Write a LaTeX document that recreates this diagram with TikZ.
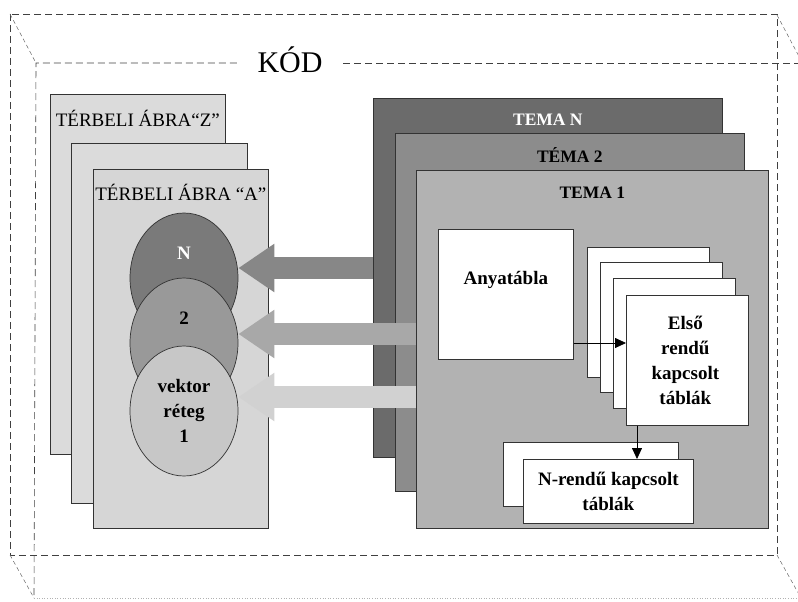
\documentclass[tikz,border=0pt]{standalone}
\usepackage{fontspec}
\setmainfont{Liberation Serif}
\usetikzlibrary{arrows.meta,positioning,shapes.geometric}
\tikzset{
  codeline/.style={draw=black!75, line width=0.6pt, dash pattern=on 7pt off 4pt},
  codeslant/.style={draw=black!60, line width=0.5pt, dash pattern=on 4pt off 3pt},
  codefaint/.style={draw=black!30, line width=0.6pt, dotted},
  sheet/.style={draw=black!80, line width=0.7pt, anchor=north west, inner sep=0pt},
  layer/.style={ellipse, draw=black!80, line width=0.7pt, minimum width=108pt,
    minimum height=130pt, inner sep=0pt},
  bigarrow/.style={line width=22pt, -{Triangle[length=36pt,width=46pt]}},
  linkarrow/.style={draw=black, line width=0.8pt, -{Triangle[length=11pt,width=10pt]}},
  boldlbl/.style={font=\fontsize{19}{25}\selectfont\bfseries, align=center, inner sep=0pt},
  headlbl/.style={font=\fontsize{19}{21}\selectfont, inner sep=0pt},
  temalbl/.style={font=\fontsize{17.5}{19}\selectfont\bfseries, inner sep=0pt}
}

\begin{document}
\begin{tikzpicture}[x=1pt, y=-1pt]
  \useasboundingbox (0,0) rectangle (798,602);
  % code frame
  \begin{scope}
    \clip (0,0) rectangle (798,602);
    \draw[codeline] (10,14) rectangle (777,555);
    \node[font=\fontsize{30}{32}\selectfont, minimum width=106pt, inner sep=0pt,
      text height=20pt, text depth=0pt] (kod) at (290,63) {KÓD};
    \draw[codeline] (kod.west) -- (36,63) -- (34,598);
    \draw[codeline] (kod.east) -- (815,63);
    \draw[codefaint] (34,598) -- (815,598);
    \draw[codeslant] (10,14) -- (36,63);
    \draw[codeslant] (777,15) -- (803,64);
    \draw[codeslant] (10,555) -- (34,598);
    \draw[codeslant] (777,555) -- (801,598);
  \end{scope}

  % spatial figures
  \node[sheet, fill=black!14, minimum width=175pt, minimum height=360pt] (terZ) at (50,94) {};
  \node[headlbl] at ([yshift=-24pt]terZ.north) {TÉRBELI ÁBRA“Z”};
  \node[sheet, fill=black!14, minimum width=176pt, minimum height=360pt] (terM) at (71,143) {};
  \node[sheet, fill=black!16, minimum width=175pt, minimum height=359pt] (terA) at (93,169) {};
  \node[headlbl] at ([yshift=-23pt]terA.north) {TÉRBELI ÁBRA “A”};

  % vector layers
  \node[layer, fill=black!52] (cN) at (184,278) {};
  \node[boldlbl, text=white] at ([yshift=25pt]cN.center) {N};
  \node[layer, fill=black!40] (c2) at (184,343) {};
  \node[boldlbl] at ([yshift=25pt]c2.center) {2};
  \node[layer, fill=black!22, font=\fontsize{19}{25}\selectfont\bfseries, align=center]
    (c1) at (184,411) {vektor\\réteg\\1};

  % themes
  \node[sheet, fill=black!58, minimum width=349pt, minimum height=359pt] (temaN) at (373,98) {};
  \node[temalbl, text=white] at ([yshift=-22pt]temaN.north) {TEMA N};
  \node[sheet, fill=black!45, minimum width=349pt, minimum height=358pt] (temaB) at (395,133) {};
  \node[temalbl] at ([yshift=-22pt]temaB.north) {TÉMA 2};
  \node[sheet, fill=black!30, minimum width=352pt, minimum height=358pt] (temaA) at (416,170) {};
  \node[temalbl] at ([yshift=-23pt]temaA.north) {TEMA 1};

  % theme -> layer
  \draw[bigarrow, draw=black!47] (temaN.west |- 0,268) -- (cN.east |- 0,268);
  \draw[bigarrow, draw=black!34] (temaA.west |- 0,334) -- (c2.east |- 0,334);
  \draw[bigarrow, draw=black!18] (temaA.west |- 0,397) -- (c1.east |- 0,397);

  % tables
  \node[sheet, fill=white, minimum width=135pt, minimum height=130pt] (anya) at (438,229) {};
  \node[boldlbl] at ([yshift=14pt]anya.center) {Anyatábla};
  \foreach \i/\x/\y in {1/587/247, 2/600/262, 3/613/278, 4/626/295}
    \node[sheet, fill=white, minimum width=122pt, minimum height=130pt] (first\i) at (\x,\y) {};
  \node[boldlbl] at ([xshift=-2pt]first4.center) {Első\\rendű\\kapcsolt\\táblák};
  \node[sheet, fill=white, minimum width=175pt, minimum height=64pt] (nback) at (503,442) {};
  \node[sheet, fill=white, minimum width=170pt, minimum height=64pt, boldlbl,
    font=\fontsize{19}{25}\selectfont\bfseries] (nfront) at (523,459) {N-rendű kapcsolt\\táblák};

  \draw[linkarrow] (anya.east |- 0,343) -- (first4.west |- 0,343);
  \coordinate (dn) at (637,0);
  \draw[linkarrow] (dn |- first4.south) -- (dn |- nfront.north);
\end{tikzpicture}
\end{document}
